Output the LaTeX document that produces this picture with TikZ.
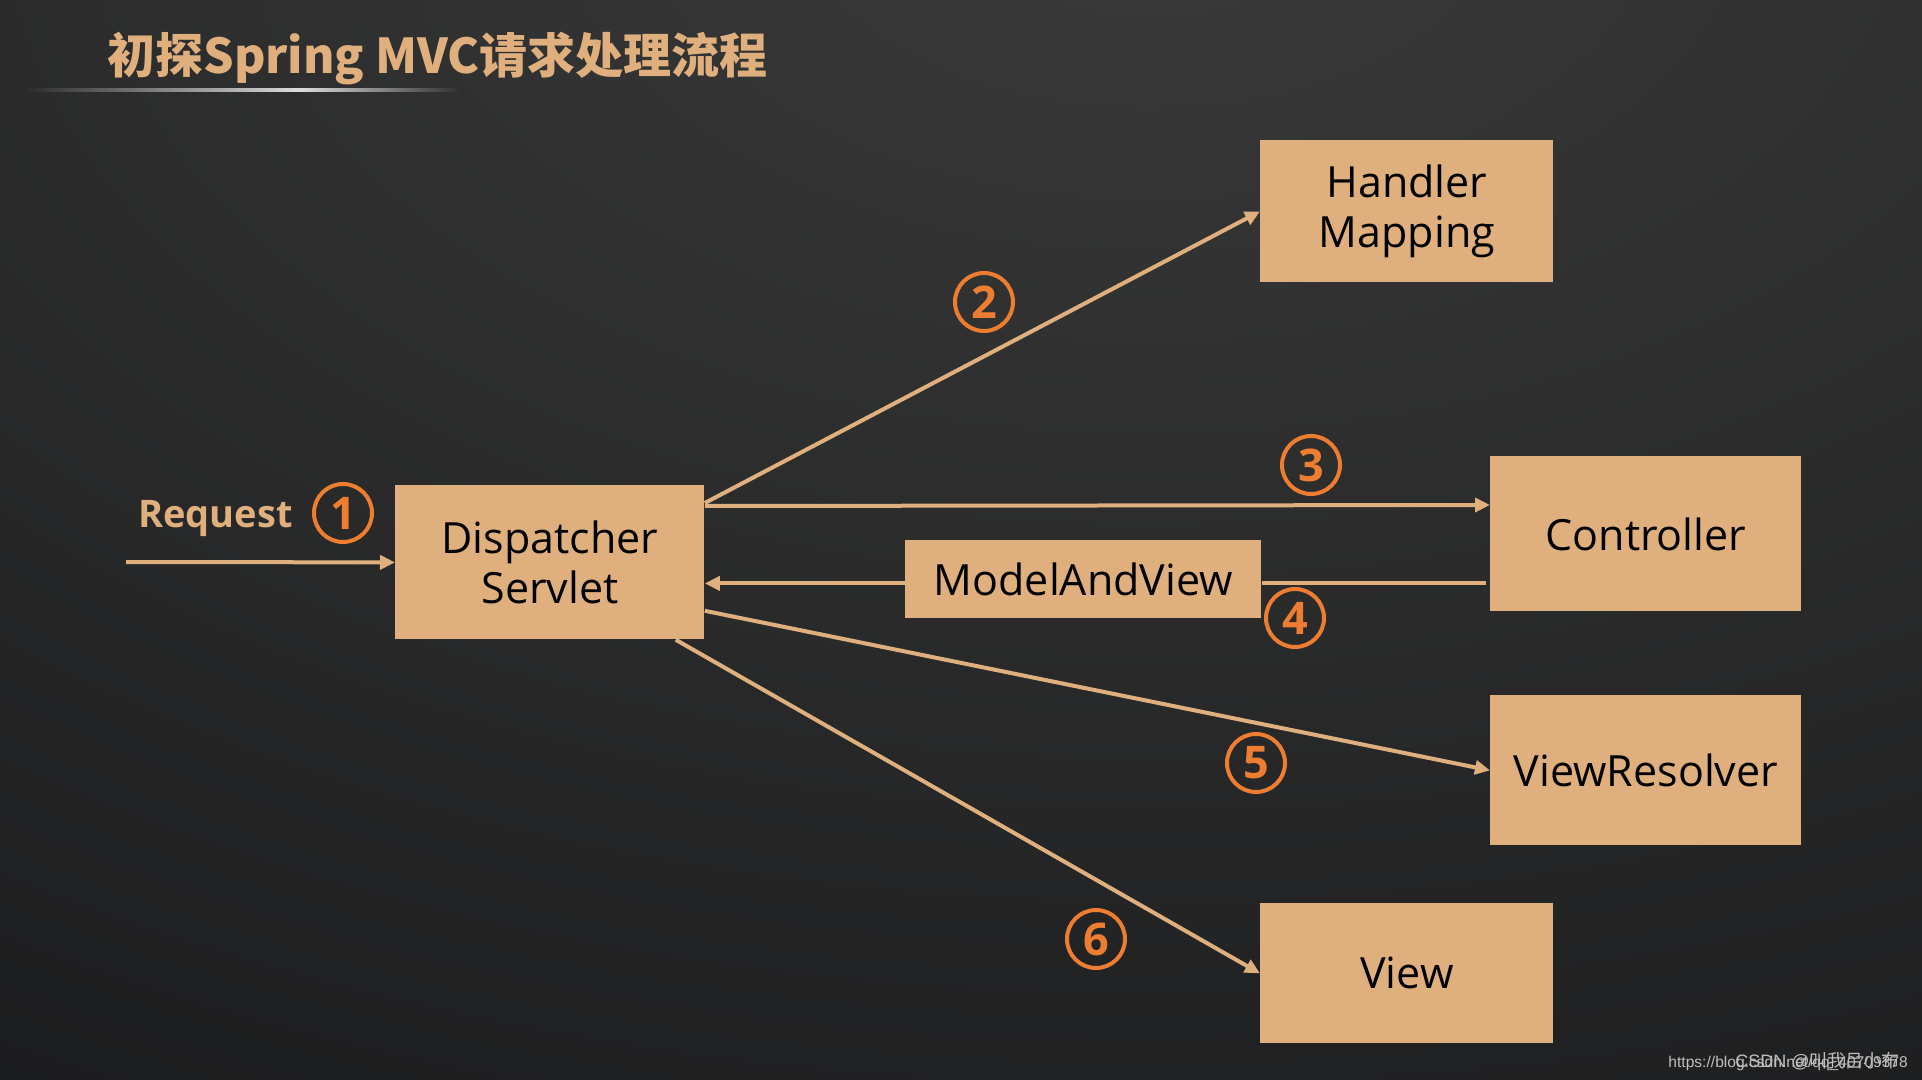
\documentclass[tikz,border=0pt]{standalone}
\usepackage{fontspec}
\setmainfont{Open Sans}
\newfontfamily\cjk{Noto Sans CJK SC}
\newfontfamily\wmfont{Liberation Sans}
\usetikzlibrary{arrows.meta,calc}
\definecolor{boxc}{RGB}{223,176,126}
\definecolor{numc}{RGB}{237,125,49}
\definecolor{bgtop}{RGB}{58,58,58}
\definecolor{bgbot}{RGB}{14,15,17}
\definecolor{ulA}{RGB}{45,45,45}
\definecolor{ulB}{RGB}{220,220,220}
\definecolor{wmc}{RGB}{190,190,190}
\tikzset{
  box/.style={fill=boxc, draw=none, inner sep=0pt, text=black, align=center,
              anchor=north west, font=\fontsize{21.5}{25}\selectfont},
  arr/.style={draw=boxc, line width=2pt, -{Triangle[length=7.5pt,width=7pt]}},
  plainline/.style={draw=boxc, line width=2pt},
  num/.style={circle, draw=numc, line width=2pt, minimum size=29pt, inner sep=0pt,
              text=numc, font=\bfseries\fontsize{22.5}{22.5}\selectfont},
}
\begin{document}
\begin{tikzpicture}[x=0.5pt,y=-0.5pt]
\useasboundingbox (0,0) rectangle (1922,1080);
% background
\fill[bgbot] (0,0) rectangle (1922,1080);
\begin{scope}
\clip (0,0) rectangle (1922,1080);
\shade[inner color=bgtop, outer color=bgbot] (1150,-100) ellipse [x radius=3400, y radius=2000];
\end{scope}
% title
\node[anchor=base west, inner sep=0pt, text=boxc, font=\cjk\bfseries\fontsize{24}{24}\selectfont] (title) at (107,74) {初探Spring MVC请求处理流程};
\shade[left color=ulA, right color=ulB] (27,89) rectangle (300,92);
\shade[left color=ulB, right color=ulA] (300,89) rectangle (462,92);
% boxes
\node[box, minimum width=146.5pt, minimum height=71pt] (hm) at (1260,140) {Handler\\Mapping};
\node[box, minimum width=154.5pt, minimum height=77pt] (ds) at (395,485) {Dispatcher\\Servlet};
\node[box, minimum width=155.5pt, minimum height=77.5pt] (ctrl) at (1490,456) {Controller};
\node[box, minimum width=178pt, minimum height=39pt] (mav) at (905,540) {ModelAndView};
\node[box, minimum width=155.5pt, minimum height=75pt] (vr) at (1490,695) {ViewResolver};
\node[box, minimum width=146.5pt, minimum height=70pt] (view) at (1260,903) {View};
% request
\node[anchor=base west, inner sep=0pt, text=boxc, font=\bfseries\fontsize{19}{19}\selectfont] (req) at (138,527) {Request};
\coordinate (rq) at (126,562);
\draw[arr] (rq) -- (ds.west);
% connectors
\draw[arr] ($(ds.north east)+(0,18)$) -- (hm.west);
\draw[arr] ($(ds.north east)+(0,21)$) -- ($(ctrl.north west)+(0,49)$);
\coordinate (m4r) at ($(mav.east)+(0,4)$);
\coordinate (m4l) at ($(mav.west)+(0,4)$);
\draw[plainline] ($(m4r -| ctrl.west)+(-4,0)$) -- (m4r);
\draw[arr] (m4l) -- (m4l -| ds.east);
\draw[arr] ($(ds.south east)+(0,-29)$) -- (vr.west);
\draw[arr] ($(ds.south east)+(-29,0)$) -- (view.west);
% numbers
\node[num] (n1) at (343,513) {1};
\node[num] (n2) at (984,302) {2};
\node[num] (n3) at (1311,465) {3};
\node[num] (n4) at (1295,618) {4};
\node[num] (n5) at (1256,763) {5};
\node[num] (n6) at (1096,939) {6};
% watermark
\node[anchor=base west, inner sep=0pt, text=wmc, font=\wmfont\fontsize{7.8}{8}\selectfont] (url) at (1668,1067) {https://blog.csdn.net/qq\_40709378};
\node[anchor=base west, inner sep=0pt, text=wmc, font=\wmfont\fontsize{9}{9}\selectfont] (csdn) at (1735,1067) {CSDN @{\cjk 叫我吕小布}};
\end{tikzpicture}
\end{document}
